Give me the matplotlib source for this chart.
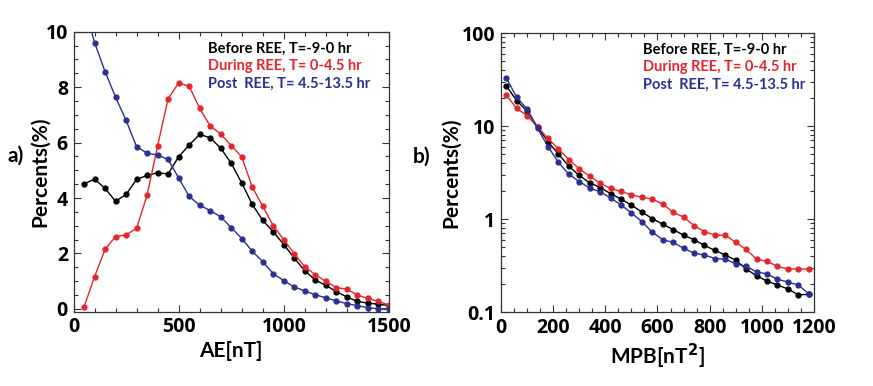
import numpy as np
from matplotlib import pyplot as plt
from matplotlib.ticker import MultipleLocator, FuncFormatter, LogLocator

plt.rcParams['font.family'] = ['Lato', 'DejaVu Sans']
plt.rcParams['font.weight'] = 'bold'

# panel a) AE distribution
ae = [50, 100, 150, 200, 250, 300, 350, 400, 450, 500,
      550, 600, 650, 700, 750, 800, 850, 900, 950, 1000,
      1050, 1100, 1150, 1200, 1250, 1300, 1350, 1400, 1450, 1500]
ae_before = [4.51, 4.68, 4.35, 3.88, 4.13, 4.67, 4.82, 4.91, 4.87, 5.49,
             5.91, 6.30, 6.17, 5.80, 5.25, 4.54, 3.77, 3.19, 2.78, 2.32,
             1.83, 1.37, 1.04, 0.85, 0.62, 0.43, 0.27, 0.21, 0.17, 0.12]
ae_during = [0.07, 1.16, 2.15, 2.61, 2.67, 2.91, 4.11, 5.89, 7.59, 8.15,
             8.03, 7.23, 6.60, 6.31, 5.89, 5.48, 4.39, 3.70, 3.00, 2.50,
             1.98, 1.52, 1.23, 0.99, 0.77, 0.71, 0.50, 0.38, 0.27, 0.14]
ae_post = [11.0, 9.61, 8.56, 7.64, 6.80, 5.85, 5.62, 5.55, 5.39, 4.72,
           4.06, 3.74, 3.55, 3.32, 2.93, 2.54, 2.08, 1.70, 1.27, 1.02,
           0.79, 0.65, 0.51, 0.40, 0.29, 0.19, 0.12, 0.04, 0.01, 0.0]

# panel b) MPB distribution
mpb = [20, 60, 100, 140, 180, 220, 260, 300, 340, 380,
       420, 460, 500, 540, 580, 620, 660, 700, 740, 780,
       820, 860, 900, 940, 980, 1020, 1060, 1100, 1140, 1180]
mpb_before = [27.1, 18.7, 14.5, 9.7, 6.8, 5.0, 3.7, 2.94, 2.45, 2.18,
              1.88, 1.64, 1.41, 1.19, 1.01, 0.88, 0.77, 0.67, 0.60, 0.52,
              0.46, 0.41, 0.36, 0.29, 0.245, 0.215, 0.195, 0.177, 0.153, 0.155]
mpb_during = [21.5, 15.5, 12.9, 9.76, 7.38, 5.67, 4.36, 3.46, 2.89, 2.43,
              2.13, 1.98, 1.82, 1.71, 1.64, 1.45, 1.18, 1.05, 0.85, 0.73,
              0.67, 0.67, 0.56, 0.47, 0.37, 0.35, 0.31, 0.29, 0.29, 0.29]
mpb_post = [33.0, 20.3, 15.3, 9.44, 6.0, 4.08, 3.03, 2.53, 2.15, 1.96,
            1.68, 1.42, 1.16, 0.94, 0.72, 0.60, 0.56, 0.485, 0.43, 0.41,
            0.376, 0.37, 0.33, 0.31, 0.27, 0.257, 0.225, 0.21, 0.195, 0.157]

labels = ['Before REE, T=-9-0 hr', 'During REE, T= 0-4.5 hr', 'Post  REE, T= 4.5-13.5 hr']
colors = ['black', '#e3262c', '#2b2f8f']


def styleAxes(ax):
    for s in ax.spines.values():
        s.set_linewidth(0.9)
        s.set_color('#333333')
    ax.tick_params(which='both', direction='in', top=True, right=True,
                   labelsize=14, labelfontfamily='Open Sans',
                   width=0.8, color='#333333', pad=4)
    ax.tick_params(which='major', length=5)
    ax.tick_params(which='minor', length=3)


def drawSeries(ax, x, series):
    for y, c in zip(series, colors):
        ax.plot(x, y, '-o', color=c, lw=1.0, ms=3.5)


def drawLegend(ax, x0):
    for i, (t, c) in enumerate(zip(labels, colors)):
        ax.text(x0, 0.94 - i * 0.063, t, color=c, fontsize=10.5,
                fontweight='bold', transform=ax.transAxes, va='center')


fig = plt.figure(figsize=(8.73, 3.86), dpi=100)

ax1 = fig.add_axes([0.0842, 0.1925, 0.3614, 0.7254])
drawSeries(ax1, ae, [ae_before, ae_during, ae_post])
ax1.set_xlim(0, 1500)
ax1.set_ylim(-0.1, 10)
ax1.xaxis.set_major_locator(MultipleLocator(500))
ax1.xaxis.set_minor_locator(MultipleLocator(100))
ax1.yaxis.set_major_locator(MultipleLocator(2))
ax1.yaxis.set_minor_locator(MultipleLocator(0.5))
styleAxes(ax1)
ax1.set_xlabel('AE[nT]', fontsize=15, fontweight='bold', labelpad=3)
ax1.set_ylabel('Percents(%)', fontsize=15, fontweight='bold')
ax1.yaxis.set_label_coords(-0.075, 0.5)
drawLegend(ax1, 0.426)
fig.text(0.009, 0.598, 'a)', fontsize=15, fontweight='bold', va='center')

ax2 = fig.add_axes([0.5739, 0.1917, 0.3585, 0.7228])
drawSeries(ax2, mpb, [mpb_before, mpb_during, mpb_post])
ax2.set_yscale('log')
ax2.set_xlim(0, 1200)
ax2.set_ylim(0.1, 100)
ax2.xaxis.set_major_locator(MultipleLocator(200))
ax2.xaxis.set_minor_locator(MultipleLocator(50))
ax2.yaxis.set_major_locator(LogLocator(base=10))
ax2.yaxis.set_minor_locator(LogLocator(base=10, subs=np.arange(2, 10)))
ax2.yaxis.set_major_formatter(FuncFormatter(lambda v, p: '%g' % v))
styleAxes(ax2)
ax2.set_xlabel('MPB[nT$^\\mathbf{2}$]', fontsize=15, fontweight='bold', labelpad=3)
ax2.set_ylabel('Percents(%)', fontsize=15, fontweight='bold')
ax2.yaxis.set_label_coords(-0.128, 0.5)
drawLegend(ax2, 0.454)
fig.text(0.473, 0.594, 'b)', fontsize=15, fontweight='bold', va='center')

fig.savefig('out.png', dpi=100)
